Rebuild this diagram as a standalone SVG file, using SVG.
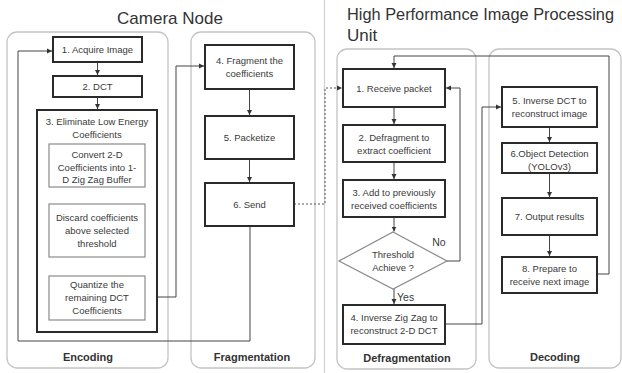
<svg xmlns="http://www.w3.org/2000/svg" width="622" height="373" viewBox="0 0 622 373">
<defs>
<marker id="ah" markerWidth="6" markerHeight="6" refX="5" refY="3" orient="auto" markerUnits="userSpaceOnUse">
<path d="M0,0.5 L5,3 L0,5.5 z" fill="#333"/>
</marker>
<style>
text{font-family:"Liberation Sans",Arial,sans-serif;fill:#3a3a3a;text-anchor:middle;font-size:9.5px}
.title{font-size:17px;fill:#333}
.lbl{font-weight:bold;font-size:11px;fill:#333}
.panel{fill:#fff;stroke:#c4c4c4;stroke-width:1.3}
.box{fill:#fff;stroke:#2a2a2a;stroke-width:2}
.sub{fill:#fff;stroke:#8a8a8a;stroke-width:1.2}
.c{fill:none;stroke:#444;stroke-width:1}
.d{fill:none;stroke:#555;stroke-width:1;stroke-dasharray:2,2}
</style>
</defs>
<rect width="622" height="373" fill="#fff"/>
<line x1="324.5" y1="0" x2="324.5" y2="373" stroke="#d0d0d0" stroke-width="1.2"/>
<text class="title" x="170" y="24">Camera Node</text>
<text class="title" x="347" y="20" style="text-anchor:start;font-size:16px" textLength="267" lengthAdjust="spacingAndGlyphs">High Performance Image Processing</text>
<text class="title" x="347" y="41" style="text-anchor:start">Unit</text>

<g id="panel-encoding"><rect class="panel" x="7" y="32" width="161" height="336" rx="10"/><text class="lbl" x="88" y="361">Encoding</text></g>
<g id="panel-fragmentation"><rect class="panel" x="191" y="32" width="124" height="336" rx="10"/><text class="lbl" x="252" y="361">Fragmentation</text></g>
<g id="panel-defragmentation"><rect class="panel" x="337" y="49" width="139" height="320" rx="10"/><text class="lbl" x="407" y="362">Defragmentation</text></g>
<g id="panel-decoding"><rect class="panel" x="489" y="49" width="132" height="319" rx="10"/><text class="lbl" x="555" y="361">Decoding</text></g>

<g id="connectors">
<path class="c" d="M97.5,62 V75" marker-end="url(#ah)"/>
<path class="c" d="M97.5,97 V109" marker-end="url(#ah)"/>
<path class="c" d="M97,187 V203.5" marker-end="url(#ah)"/>
<path class="c" d="M97,257 V275.5" marker-end="url(#ah)"/>
<path class="c" d="M145,297 H176 V66 H204" marker-end="url(#ah)"/>
<path class="c" d="M249.5,89 V115" marker-end="url(#ah)"/>
<path class="c" d="M249.5,159 V182" marker-end="url(#ah)"/>
<path class="c" d="M250,226 V341 H18 V51 H52" marker-end="url(#ah)"/>
<path class="d" d="M294,204 H325 V88 H342" marker-end="url(#ah)"/>
<path class="c" d="M394,107 V124" marker-end="url(#ah)"/>
<path class="c" d="M394,162 V179" marker-end="url(#ah)"/>
<path class="c" d="M394,217 V231.5" marker-end="url(#ah)"/>
<path class="c" d="M394,289 V304" marker-end="url(#ah)"/>
<path class="c" d="M447,261 H460 V88 H446" marker-end="url(#ah)"/>
<path class="c" d="M445,324 H482 V107 H501" marker-end="url(#ah)"/>
<path class="c" d="M549.5,127 V142" marker-end="url(#ah)"/>
<path class="c" d="M549.5,173 V197" marker-end="url(#ah)"/>
<path class="c" d="M549.5,235 V256" marker-end="url(#ah)"/>
<path class="c" d="M597,274 H609 V56 H394 V68" marker-end="url(#ah)"/>
<text x="439" y="246" style="font-size:10.5px">No</text>
<text x="397" y="301" style="font-size:10.5px;text-anchor:start">Yes</text>
</g>

<g id="n-acquire"><rect class="box" x="53" y="37" width="89" height="25"/><text x="97.5" y="53">1. Acquire Image</text></g>
<g id="n-dct"><rect class="box" x="53" y="76" width="89" height="21"/><text x="97.5" y="90">2. DCT</text></g>
<g id="n-eliminate"><rect class="box" x="37" y="110" width="120" height="222"/><text x="97" y="125">3. Eliminate Low Energy</text><text x="97" y="138">Coefficients</text></g>
<g id="n-convert"><rect class="sub" x="49" y="144" width="96" height="43"/><text x="97" y="158">Convert 2-D</text><text x="97" y="170.5">Coefficients into 1-</text><text x="97" y="183">D Zig Zag Buffer</text></g>
<g id="n-discard"><rect class="sub" x="49" y="204" width="96" height="53"/><text x="97" y="221">Discard coefficients</text><text x="97" y="234">above selected</text><text x="97" y="247">threshold</text></g>
<g id="n-quantize"><rect class="sub" x="49" y="276" width="96" height="44"/><text x="97" y="288">Quantize the</text><text x="97" y="301">remaining DCT</text><text x="97" y="314">Coefficients</text></g>

<g id="n-fragment"><rect class="box" x="205" y="45" width="89" height="44"/><text x="249.5" y="64">4. Fragment the</text><text x="249.5" y="77">coefficients</text></g>
<g id="n-packetize"><rect class="box" x="205" y="116" width="89" height="43"/><text x="249.5" y="141">5. Packetize</text></g>
<g id="n-send"><rect class="box" x="205" y="183" width="89" height="43"/><text x="249.5" y="208">6. Send</text></g>

<g id="n-receive"><rect class="box" x="343" y="69" width="102" height="38"/><text x="394" y="91.5">1. Receive packet</text></g>
<g id="n-defrag"><rect class="box" x="343" y="125" width="102" height="37"/><text x="394" y="141">2. Defragment to</text><text x="394" y="154">extract coefficient</text></g>
<g id="n-add"><rect class="box" x="343" y="180" width="102" height="37"/><text x="394" y="196">3. Add to previously</text><text x="394" y="209">received coefficients</text></g>
<g id="n-threshold"><polygon class="sub" points="393,232 447,261 393,289 339,261"/><text x="393" y="258">Threshold</text><text x="393" y="271">Achieve ?</text></g>
<g id="n-invzigzag"><rect class="box" x="343" y="305" width="102" height="39"/><text x="394" y="321">4. Inverse Zig Zag to</text><text x="394" y="334">reconstruct 2-D DCT</text></g>

<g id="n-invdct"><rect class="box" x="502" y="87" width="95" height="40"/><text x="549.5" y="104">5. Inverse DCT to</text><text x="549.5" y="117">reconstruct image</text></g>
<g id="n-detect"><rect class="box" x="502" y="143" width="95" height="30"/><text x="549.5" y="157">6.Object Detection</text><text x="549.5" y="169.5">(YOLOv3)</text></g>
<g id="n-output"><rect class="box" x="502" y="198" width="95" height="37"/><text x="549.5" y="220">7. Output results</text></g>
<g id="n-prepare"><rect class="box" x="502" y="257" width="95" height="36"/><text x="549.5" y="272">8. Prepare to</text><text x="549.5" y="285">receive next image</text></g>
</svg>
